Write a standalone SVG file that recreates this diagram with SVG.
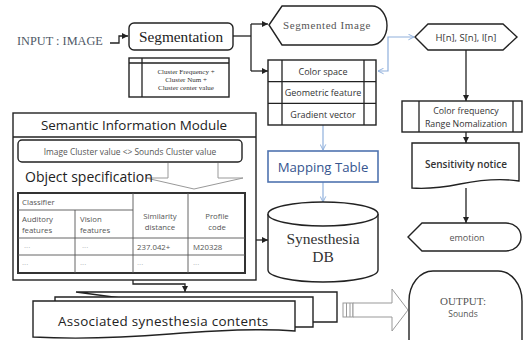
<svg xmlns="http://www.w3.org/2000/svg" width="525" height="340" viewBox="0 0 525 340">
<defs>
<marker id="ah" viewBox="0 0 10 10" refX="10" refY="5" markerWidth="6" markerHeight="6" markerUnits="userSpaceOnUse" orient="auto"><path d="M0,0 L10,5 L0,10 Z" fill="#222"/></marker>
<marker id="bh" viewBox="0 0 10 10" refX="9" refY="5" markerWidth="7" markerHeight="7" markerUnits="userSpaceOnUse" orient="auto-start-reverse"><path d="M1,1 L9,5 L1,9" fill="none" stroke="#8fb0dc" stroke-width="1.4"/></marker>
<style>
.b{fill:#fff;stroke:#222;stroke-width:1.4}
.t{fill:none;stroke:#555;stroke-width:0.9}
.c{fill:none;stroke:#222;stroke-width:1.3}
.bl{fill:none;stroke:#8fb0dc;stroke-width:1.2}
.h{fill:#fff;stroke:#999;stroke-width:1}
.sans{font-family:"Open Sans","Noto Sans",sans-serif}
.ser{font-family:"Liberation Serif","DejaVu Serif",serif}
.sm{font-size:9px;fill:#333}
.tb{font-size:7.8px;fill:#555}
.dot{font-size:8px;fill:#aaa}
</style>
</defs>
<text x="17" y="45" class="ser" font-size="12.3" fill="#4e5866">INPUT : IMAGE</text>
<g id="connectors">
<path class="c" d="M110,43 H119 V36 H128" marker-end="url(#ah)"/>
<path class="c" d="M233,36 H251"/>
<path class="c" d="M251,24 V71"/>
<path class="c" d="M251,24 H268" marker-end="url(#ah)"/>
<path class="c" d="M251,71 H268" marker-end="url(#ah)"/>
<path class="bl" d="M378,71 H388 V37 H414" marker-start="url(#bh)" marker-end="url(#bh)"/>
<path class="bl" d="M323,125 V150" marker-end="url(#bh)"/>
<path class="bl" d="M323,182 V202" marker-end="url(#bh)"/>
<path class="c" d="M466,50 V101" marker-end="url(#ah)"/>
<path class="c" d="M466,132 V143" marker-end="url(#ah)"/>
<path class="c" d="M466,188 V223" marker-end="url(#ah)"/>
<path class="c" d="M256,152 H243" marker-end="url(#ah)"/>
<path class="c" d="M256,240 H268" marker-end="url(#ah)"/>
<path class="c" d="M133,273 V284 H185 V292" marker-end="url(#ah)"/>
</g>
<g id="segmentation">
<rect class="b" x="129" y="23" width="104" height="27" rx="5"/>
<text x="181" y="42" class="ser" font-size="15.3" text-anchor="middle" fill="#222">Segmentation</text>
</g>
<g id="cluster">
<rect class="b" x="129" y="58" width="100" height="39"/>
<path class="c" d="M129,63 H229 M142,58 V97"/>
<g class="ser" font-size="7" fill="#333" text-anchor="middle">
<text x="186" y="74">Cluster Frequency +</text>
<text x="186" y="81.5">Cluster Num +</text>
<text x="186" y="89.5">Cluster center value</text>
</g>
</g>
<g id="segmented-image">
<path class="b" d="M269,25 L282,6 H372 A15,19.5 0 0 1 372,45 H282 Z"/>
<text x="327" y="29" class="ser" font-size="11" letter-spacing="0.6" text-anchor="middle" fill="#555">Segmented Image</text>
</g>
<g id="hsi">
<path class="b" d="M415,37 L428,24 H503 L517,37 L503,50 H428 Z"/>
<text x="466" y="40.5" class="sans" font-size="9.5" text-anchor="middle" fill="#333">H[n], S[n], I[n]</text>
</g>
<g id="features">
<rect class="b" x="268" y="60" width="108" height="65"/>
<path class="c" d="M268,81.7 H376 M268,103.3 H376 M282,60 V125 M364,60 V125"/>
<g class="sans sm" text-anchor="middle">
<text x="323" y="74.5">Color space</text>
<text x="323" y="96">Geometric feature</text>
<text x="323" y="117.5">Gradient vector</text>
</g>
</g>
<g id="mapping-table">
<rect x="268" y="151" width="110" height="31" fill="#fff" stroke="#4f73b0" stroke-width="1.6"/>
<text x="323" y="171.5" class="sans" font-size="13.2" text-anchor="middle" fill="#36558f">Mapping Table</text>
</g>
<g id="synesthesia-db">
<path class="b" d="M268,214 V270 A55,12 0 0 0 378,270 V214"/>
<ellipse class="b" cx="323" cy="214" rx="55" ry="12"/>
<g class="ser" font-size="15.5" text-anchor="middle" fill="#333">
<text x="323" y="244">Synesthesia</text>
<text x="323" y="262">DB</text>
</g>
</g>
<g id="color-frequency">
<rect class="b" x="402" y="101" width="120" height="31"/>
<path class="c" d="M419,101 V132 M513,101 V132"/>
<g class="sans" font-size="8.8" fill="#333" text-anchor="middle">
<text x="466" y="114">Color frequency</text>
<text x="466" y="126.5">Range Nomalization</text>
</g>
</g>
<g id="sensitivity-notice">
<path class="b" d="M412,143 H519 V181 C500,178 480,180 460,184 C440,188 425,189 412,188 Z"/>
<text x="466" y="168" class="sans" font-size="10" font-weight="600" text-anchor="middle" fill="#333">Sensitivity notice</text>
</g>
<g id="emotion">
<path class="b" d="M408,237 L422,223 H506 A15,14 0 0 1 506,251 H422 Z"/>
<text x="467" y="240.5" class="sans" font-size="9" text-anchor="middle" fill="#555">emotion</text>
</g>
<g id="semantic-module">
<rect class="b" x="13" y="113" width="243" height="167"/>
<path class="c" d="M13,137 H256"/>
<text x="134" y="130" class="sans" font-size="13.4" text-anchor="middle" fill="#222">Semantic Information Module</text>
<rect class="b" x="18" y="140" width="224" height="22" rx="4"/>
<text x="130" y="154.5" class="sans" font-size="8.4" text-anchor="middle" fill="#555">Image Cluster value &lt;&gt; Sounds Cluster value</text>
<path class="h" d="M168,163 V178 H146 L194,189 L243,178 H218 V163"/>
<text x="25" y="182" class="sans" font-size="14" fill="#222">Object specification</text>
<rect x="18" y="193" width="227" height="80" fill="#fff" stroke="#333" stroke-width="2"/>
<path class="t" d="M18,210 H133 M18,238 H245 M18,255 H245 M75,210 V273 M133,193 V273 M188,193 V273"/>
<g class="sans tb">
<text x="22" y="205">Classifier</text>
<text x="22" y="222">Auditory</text>
<text x="22" y="233">features</text>
<text x="80" y="222">Vision</text>
<text x="80" y="233">features</text>
<text x="160" y="219" text-anchor="middle">Similarity</text>
<text x="160" y="230" text-anchor="middle">distance</text>
<text x="217" y="219" text-anchor="middle">Profile</text>
<text x="217" y="230" text-anchor="middle">code</text>
<text x="137" y="250">237.042+</text>
<text x="193" y="250">M20328</text>
</g>
<g class="sans dot">
<text x="24" y="250">···</text>
<text x="82" y="250">···</text>
<text x="22" y="267">···</text>
<text x="80" y="267">···</text>
<text x="137" y="267">···</text>
<text x="193" y="267">···</text>
</g>
</g>
<g id="associated-contents">
<path class="b" d="M76,292 H337 V322 H300 Z"/>
<path class="b" d="M55,297 H313 V327 H290 L55,320 Z"/>
<path class="b" d="M33,301 H295 V331 C260,328 220,330 170,334 C120,338 70,339 33,337 Z"/>
<text x="58" y="326" class="sans" font-size="13.4" fill="#222" letter-spacing="0.3">Associated synesthesia contents</text>
</g>
<g id="output-arrow">
<rect class="h" x="343" y="303" width="10" height="14"/>
<path class="h" d="M346.5,303 V317 M350,303 V317"/>
<path class="h" d="M353,303 H392 V289 L408,310 L392,331 V317 H353 Z"/>
</g>
<g id="output">
<rect class="b" x="409" y="271" width="113" height="100" rx="24" ry="30"/>
<text x="463" y="305" class="ser" font-size="11" text-anchor="middle" fill="#555">OUTPUT:</text>
<text x="463" y="317" class="sans" font-size="8.5" text-anchor="middle" fill="#555">Sounds</text>
</g>
</svg>
